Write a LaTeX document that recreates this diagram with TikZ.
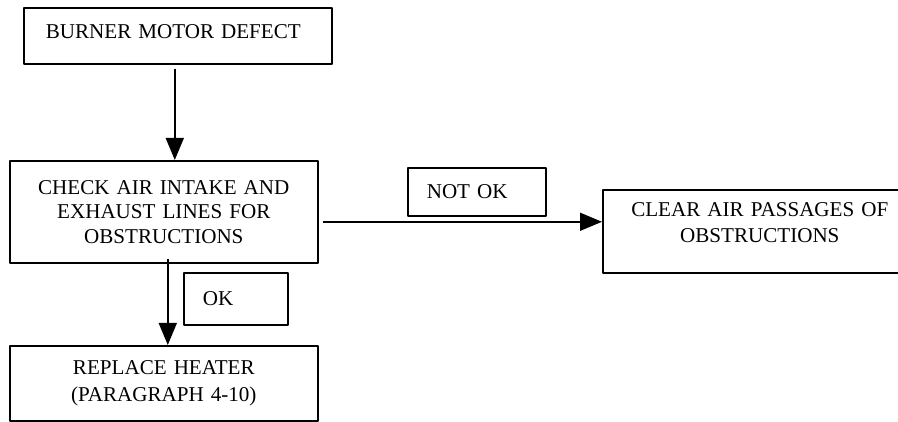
\documentclass[tikz,border=0pt]{standalone}
\usepackage{fontspec}
\setmainfont{Liberation Serif}
\usetikzlibrary{arrows.meta}
\begin{document}
\begin{tikzpicture}[font=\fontsize{12}{14}\selectfont,line join=round, line width=0.9pt,
	>={Triangle[length=0.44cm,width=0.36cm]},
	box/.style={draw,rectangle,inner ysep=0pt,anchor=north west},
	tag/.style={box,inner xsep=0.38cm,align=left}]
\useasboundingbox (0,0) rectangle (17.96,8.44);
\clip (0,0) rectangle (17.96,8.44);
\node[box,inner xsep=0.44cm,text width=5.28cm,align=left,text height=0.62cm,text depth=0.5cm] (defect) at (0.46,8.30) {BURNER MOTOR DEFECT};
\node[box,inner xsep=0.2cm,text width=5.76cm,align=center,minimum height=2.04cm] (check) at (0.18,5.24) {CHECK AIR INTAKE AND\\EXHAUST LINES FOR\\OBSTRUCTIONS};
\node[tag,text width=2.0cm,minimum height=0.96cm] (notok) at (8.14,5.10) {NOT OK};
\node[box,inner xsep=0.3cm,text width=5.68cm,align=center,text height=0.53cm,text depth=1.13cm,font=\fontsize{12}{15}\selectfont] (clear) at (12.04,4.66) {CLEAR AIR PASSAGES OF\\OBSTRUCTIONS};
\node[tag,text width=1.32cm,minimum height=1.04cm] (ok) at (3.66,3.0) {OK};
\node[box,inner xsep=0.2cm,text width=5.76cm,align=center,minimum height=1.5cm,font=\fontsize{12}{15.3}\selectfont] (replace) at (0.18,1.54) {REPLACE HEATER\\(PARAGRAPH 4-10)};
\draw[->] ([xshift=-0.06cm,yshift=-0.08cm]defect.south) -- ([xshift=-0.06cm]defect.south |- check.north);
\draw[->] ([xshift=0.08cm,yshift=-0.2cm]check.east) -- ([yshift=-0.2cm]check.east -| clear.west);
\draw[->] ([xshift=0.08cm,yshift=0.1cm]check.south) -- ([xshift=0.08cm]check.south |- replace.north);
\end{tikzpicture}
\end{document}
